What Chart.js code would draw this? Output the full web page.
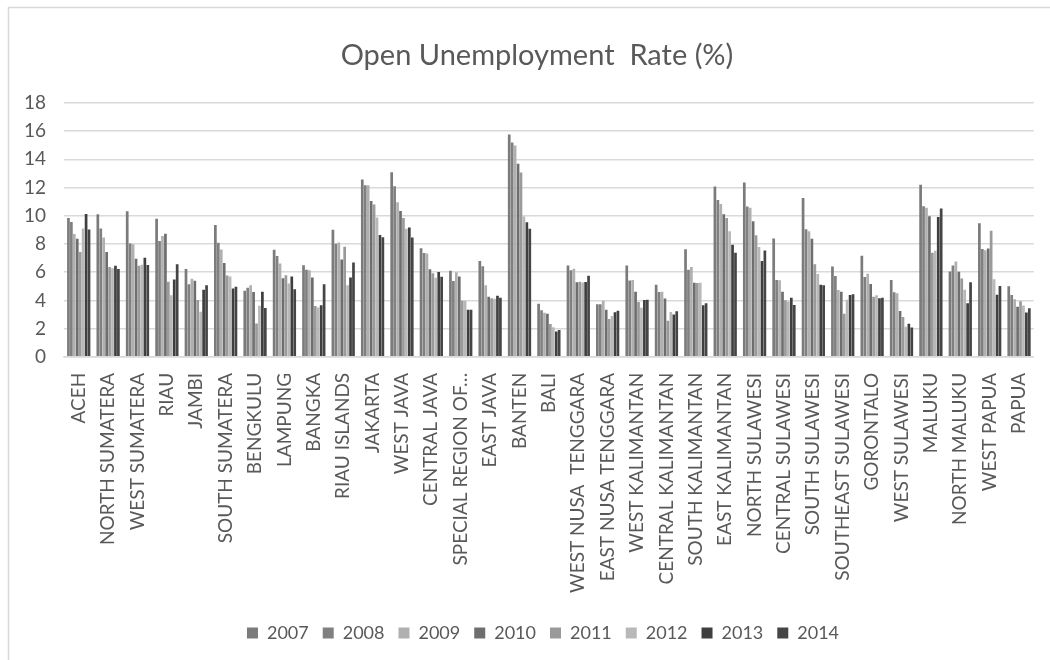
<!DOCTYPE html>
<html>
<head>
<meta charset="utf-8">
<script src="https://cdn.jsdelivr.net/npm/chart.js@4/dist/chart.umd.min.js"></script>
<style>
  html, body { margin: 0; padding: 0; background: #fff; }
  #wrap { width: 1050px; height: 660px; }
</style>
</head>
<body>
<div id="wrap"><canvas id="myChart" width="1050" height="660"></canvas></div>
<script>
const provinces = [
  "ACEH", "NORTH SUMATERA", "WEST SUMATERA", "RIAU", "JAMBI", "SOUTH SUMATERA",
  "BENGKULU", "LAMPUNG", "BANGKA", "RIAU ISLANDS", "JAKARTA", "WEST JAVA",
  "CENTRAL JAVA", "SPECIAL REGION OF\u2026", "EAST JAVA", "BANTEN", "BALI",
  "WEST NUSA  TENGGARA", "EAST NUSA TENGGARA", "WEST KALIMANTAN", "CENTRAL KALIMANTAN",
  "SOUTH KALIMANTAN", "EAST KALIMANTAN", "NORTH SULAWESI", "CENTRAL SULAWESI",
  "SOUTH SULAWESI", "SOUTHEAST SULAWESI", "GORONTALO", "WEST SULAWESI", "MALUKU",
  "NORTH MALUKU", "WEST PAPUA", "PAPUA"
];

const years = ["2007", "2008", "2009", "2010", "2011", "2012", "2013", "2014"];

const y2007 = [9.84, 10.10, 10.31, 9.79, 6.22, 9.34, 4.68, 7.58, 6.49, 9.01, 12.57, 13.08, 7.70, 6.10, 6.79, 15.75, 3.77, 6.48, 3.72, 6.47, 5.11, 7.62, 12.07, 12.35, 8.39, 11.25, 6.40, 7.16, 5.45, 12.20, 6.05, 9.46, 5.01];
const y2008 = [9.56, 9.10, 8.04, 8.20, 5.14, 8.08, 4.90, 7.15, 6.18, 8.01, 12.16, 12.08, 7.35, 5.38, 6.42, 15.18, 3.31, 6.13, 3.73, 5.41, 4.60, 6.18, 11.11, 10.65, 5.45, 9.04, 5.73, 5.65, 4.57, 10.67, 6.48, 7.65, 4.39];
const y2009 = [8.71, 8.45, 7.97, 8.56, 5.54, 7.61, 5.08, 6.62, 6.14, 8.11, 12.15, 10.96, 7.33, 6.00, 5.08, 14.97, 3.13, 6.25, 3.97, 5.44, 4.62, 6.36, 10.83, 10.56, 5.43, 8.90, 4.74, 5.89, 4.51, 10.57, 6.76, 7.56, 4.08];
const y2010 = [8.37, 7.43, 6.95, 8.72, 5.39, 6.65, 4.59, 5.57, 5.63, 6.90, 11.05, 10.33, 6.21, 5.69, 4.25, 13.68, 3.06, 5.29, 3.34, 4.62, 4.14, 5.25, 10.10, 9.61, 4.61, 8.37, 4.61, 5.16, 3.25, 9.97, 6.03, 7.68, 3.55];
const y2011 = [7.43, 6.37, 6.45, 5.32, 4.02, 5.77, 2.37, 5.78, 3.61, 7.80, 10.80, 9.83, 5.93, 3.97, 4.16, 13.06, 2.32, 5.33, 2.69, 3.88, 2.55, 5.23, 9.84, 8.62, 4.01, 6.56, 3.06, 4.26, 2.82, 7.38, 5.55, 8.94, 3.94];
const y2012 = [9.10, 6.28, 6.52, 4.37, 3.20, 5.70, 3.62, 5.20, 3.49, 5.08, 9.87, 9.08, 5.61, 3.97, 4.12, 9.94, 2.10, 5.26, 2.89, 3.48, 3.17, 5.25, 8.90, 7.79, 3.93, 5.87, 4.04, 4.36, 2.14, 7.51, 4.76, 5.49, 3.63];
const y2013 = [10.12, 6.45, 7.02, 5.48, 4.76, 4.84, 4.61, 5.69, 3.65, 5.63, 8.63, 9.16, 6.01, 3.34, 4.33, 9.54, 1.79, 5.30, 3.16, 4.03, 3.00, 3.66, 7.95, 6.79, 4.19, 5.10, 4.38, 4.15, 2.35, 9.91, 3.80, 4.40, 3.15];
const y2014 = [9.02, 6.23, 6.50, 6.56, 5.08, 4.96, 3.47, 4.79, 5.14, 6.69, 8.47, 8.45, 5.68, 3.33, 4.19, 9.07, 1.90, 5.75, 3.26, 4.04, 3.24, 3.80, 7.38, 7.54, 3.68, 5.08, 4.43, 4.18, 2.08, 10.51, 5.29, 5.02, 3.44];

const yearValues = [y2007, y2008, y2009, y2010, y2011, y2012, y2013, y2014];
const greys = ["#7b7b7b", "#808080", "#b0b0b0", "#6e6e6e", "#9a9a9a", "#b8b8b8", "#3f3f3f", "#454545"];

const yTicks = [0, 2, 4, 6, 8, 10, 12, 14, 16, 18];

const textColor = "#595959";
const fontFamily = "Lato, 'Open Sans', sans-serif";

const datasets = years.map((yr, i) => ({
  label: yr,
  data: yearValues[i],
  backgroundColor: greys[i],
  borderWidth: 0,
  categoryPercentage: 0.8,
  barPercentage: 0.92
}));

// thin frame round the chart, like a spreadsheet chart box
const chartFrame = {
  id: 'chartFrame',
  beforeDraw(chart) {
    const c = chart.ctx;
    c.save();
    c.strokeStyle = '#d9d9d9';
    c.lineWidth = 1.5;
    c.strokeRect(8.5, 7.5, chart.width + 20, chart.height + 20);
    c.restore();
  }
};

// nudge title and legend a bit to the right, centred on the frame
const nudgeBoxes = {
  id: 'nudgeBoxes',
  afterLayout(chart) {
    if (chart.titleBlock) chart.titleBlock.left += 28;
    if (chart.legend) chart.legend.left += 40;
  }
};

const ctx = document.getElementById('myChart').getContext('2d');
const myChart = new Chart(ctx, {
  type: 'bar',
  data: {
    labels: provinces,
    datasets: datasets
  },
  plugins: [chartFrame, nudgeBoxes],
  options: {
    responsive: false,
    animation: false,
    layout: {
      padding: { left: 6, right: 10, top: 0, bottom: 8 }
    },
    plugins: {
      title: {
        display: true,
        text: 'Open Unemployment  Rate (%)',
        color: textColor,
        font: { family: fontFamily, size: 29, weight: 'normal' },
        padding: { top: 38, bottom: 30 }
      },
      legend: {
        position: 'bottom',
        labels: {
          color: textColor,
          font: { family: fontFamily, size: 18 },
          boxWidth: 11,
          boxHeight: 11,
          padding: 14
        }
      },
      tooltip: { enabled: false }
    },
    scales: {
      x: {
        grid: { display: false },
        border: { color: '#d9d9d9', width: 1.5 },
        afterFit: scale => { scale.height += 9; },
        ticks: {
          color: textColor,
          font: { family: fontFamily, size: 19 },
          maxRotation: 90,
          minRotation: 90,
          autoSkip: false,
          padding: 8
        }
      },
      y: {
        min: 0,
        max: 18,
        afterBuildTicks: axis => { axis.ticks = yTicks.map(v => ({ value: v })); },
        grid: { color: '#d9d9d9', lineWidth: 1.5, drawTicks: false },
        border: { display: false },
        ticks: {
          color: textColor,
          font: { family: fontFamily, size: 19 },
          padding: 18
        }
      }
    }
  }
});
</script>
</body>
</html>
